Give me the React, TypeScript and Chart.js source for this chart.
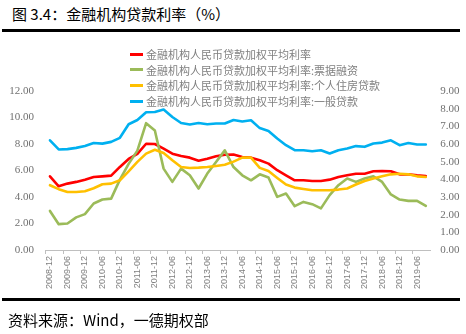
import React, { useEffect, useRef } from "react";
import { Chart, registerables } from "chart.js";

Chart.register(...registerables);

const quarters = [
  "2008-12", "2009-03", "2009-06", "2009-09", "2009-12", "2010-03", "2010-06", "2010-09",
  "2010-12", "2011-03", "2011-06", "2011-09", "2011-12", "2012-03", "2012-06", "2012-09",
  "2012-12", "2013-03", "2013-06", "2013-09", "2013-12", "2014-03", "2014-06", "2014-09",
  "2014-12", "2015-03", "2015-06", "2015-09", "2015-12", "2016-03", "2016-06", "2016-09",
  "2016-12", "2017-03", "2017-06", "2017-09", "2017-12", "2018-03", "2018-06", "2018-09",
  "2018-12", "2019-03", "2019-06", "2019-09",
];

// 金融机构人民币贷款加权平均利率 (left axis)
const loanRate = [
  5.56, 4.81, 5.01, 5.14, 5.31, 5.51, 5.56, 5.61, 6.27, 6.87, 7.25, 8.02, 8.0, 7.65, 7.27, 7.09,
  6.97, 6.74, 6.89, 7.07, 7.19, 7.2, 7.02, 6.97, 6.77, 6.52, 6.02, 5.64, 5.26, 5.26, 5.21, 5.21,
  5.31, 5.51, 5.64, 5.76, 5.76, 5.94, 5.96, 5.94, 5.71, 5.71, 5.64, 5.59,
];

// 票据融资 (left axis)
const billRate = [
  2.95, 1.95, 2.0, 2.46, 2.71, 3.51, 3.81, 3.88, 5.31, 6.5, 7.5, 9.57, 9.02, 6.14, 5.14, 6.14,
  5.64, 4.64, 5.77, 6.64, 7.52, 6.26, 5.64, 5.26, 5.71, 5.47, 4.01, 4.26, 3.31, 3.63, 3.46, 3.14,
  4.14, 4.89, 5.39, 5.14, 5.39, 5.56, 5.14, 4.19, 3.81, 3.71, 3.71, 3.33,
];

// 个人住房贷款 (left axis)
const mortgageRate = [
  4.89, 4.59, 4.38, 4.38, 4.44, 4.66, 4.96, 5.01, 5.26, 5.94, 6.65, 7.27, 7.57, 7.32, 6.77, 6.27,
  6.19, 6.22, 6.27, 6.34, 6.44, 6.67, 6.97, 6.97, 6.2, 5.96, 5.44, 4.94, 4.71, 4.61, 4.51, 4.51,
  4.51, 4.56, 4.64, 4.94, 5.21, 5.39, 5.56, 5.71, 5.76, 5.71, 5.56, 5.51,
];

// 一般贷款 (right axis)
const generalRate = [
  6.21, 5.69, 5.71, 5.78, 5.89, 6.06, 6.02, 6.12, 6.35, 7.12, 7.36, 7.8, 7.81, 7.95, 7.53, 7.19,
  7.1, 7.19, 7.12, 7.16, 7.16, 7.36, 7.27, 7.34, 6.9, 6.74, 6.31, 5.93, 5.65, 5.65, 5.59, 5.65,
  5.46, 5.65, 5.74, 5.88, 5.84, 6.03, 6.08, 6.21, 5.93, 6.06, 5.97, 5.97,
];

const seriesNames = [
  "金融机构人民币贷款加权平均利率",
  "金融机构人民币贷款加权平均利率:票据融资",
  "金融机构人民币贷款加权平均利率:个人住房贷款",
  "金融机构人民币贷款加权平均利率:一般贷款",
];
const seriesColors = ["#FF0000", "#9BBB59", "#FFC000", "#00B0F0"];

const leftMax = 12;
const leftStep = 2;
const rightMax = 9;
const rightStep = 1;

const titleText = "图 3.4：金融机构贷款利率（%）";
const sourceText = "资料来源：Wind，一德期权部";

const W = 466;
const H = 334;
const AREA_TOP = 91;
const AREA_BOTTOM = 250;
const AREA_LEFT = 45.6;
const AREA_RIGHT = 430.2;
const X_AXIS_H = 40;

export default function App() {
  const canvasRef = useRef<HTMLCanvasElement | null>(null);

  useEffect(() => {
    const canvas = canvasRef.current;
    if (!canvas) return;
    const seriesData = [loanRate, billRate, mortgageRate, generalRate];
    const axisIds = ["yL", "yL", "yL", "yR"];
    const chart = new Chart(canvas, {
      type: "line",
      data: {
        labels: quarters,
        datasets: seriesData.map((d, i) => ({
          label: seriesNames[i],
          data: d,
          yAxisID: axisIds[i],
          borderColor: seriesColors[i],
          backgroundColor: seriesColors[i],
          borderWidth: 2.6,
          pointRadius: 0,
          tension: 0,
          borderJoinStyle: "round" as const,
          borderCapStyle: "round" as const,
          order: 4 - i,
        })),
      },
      options: {
        animation: false,
        responsive: false,
        devicePixelRatio: 1,
        layout: {
          padding: { top: AREA_TOP, bottom: H - AREA_BOTTOM - X_AXIS_H, left: 0, right: 0 },
        },
        plugins: { legend: { display: false }, tooltip: { enabled: false } },
        scales: {
          x: {
            type: "category",
            offset: true,
            grid: {
              display: true,
              offset: true,
              drawOnChartArea: false,
              drawTicks: true,
              tickLength: 4,
              color: (ctx: any) => (ctx.index % 2 === 0 ? "#bfbfbf" : "rgba(0,0,0,0)"),
            },
            border: { display: true, color: "#bfbfbf", width: 1 },
            ticks: {
              autoSkip: false,
              minRotation: 90,
              maxRotation: 90,
              padding: 2,
              color: "#7f7f7f",
              font: { family: "'Liberation Sans', Arial, sans-serif", size: 9 },
              callback: (_v: any, idx: number) => (idx % 2 === 0 ? quarters[idx] : ""),
            },
            afterFit: (s: any) => {
              s.height = X_AXIS_H;
            },
          },
          yL: {
            type: "linear",
            position: "left",
            min: 0,
            max: leftMax,
            grid: { display: false, drawTicks: false },
            border: { display: false },
            ticks: {
              stepSize: leftStep,
              padding: 11.6,
              color: "#707070",
              font: { family: "'Liberation Serif', 'DejaVu Serif', serif", size: 11 },
              callback: (v: any) => Number(v).toFixed(2),
            },
            afterFit: (s: any) => {
              s.width = AREA_LEFT;
            },
          },
          yR: {
            type: "linear",
            position: "right",
            min: 0,
            max: rightMax,
            grid: { display: false, drawTicks: false },
            border: { display: false },
            ticks: {
              stepSize: rightStep,
              padding: 10,
              color: "#707070",
              font: { family: "'Liberation Serif', 'DejaVu Serif', serif", size: 11 },
              callback: (v: any) => Number(v).toFixed(2),
            },
            afterFit: (s: any) => {
              s.width = W - AREA_RIGHT;
            },
          },
        },
      },
    });
    return () => chart.destroy();
  }, []);

  const legendCenters = [54, 69.5, 85, 101];

  return (
    <div
      style={{
        position: "fixed",
        left: 0,
        top: 0,
        width: W,
        height: H,
        background: "#ffffff",
        overflow: "hidden",
        fontFamily: "'Noto Sans CJK SC', sans-serif",
      }}
    >
      <div
        style={{
          position: "absolute",
          left: 12,
          top: 6,
          fontSize: 15,
          lineHeight: "15px",
          color: "#000",
          whiteSpace: "nowrap",
        }}
      >
        {titleText}
      </div>
      <div style={{ position: "absolute", left: 2, top: 29, width: 458, height: 3, background: "#000" }} />
      <canvas
        ref={canvasRef}
        width={W}
        height={H}
        style={{ position: "absolute", left: 0, top: 0, width: W, height: H }}
      />
      {seriesNames.map((name, i) => (
        <div
          key={name}
          style={{
            position: "absolute",
            left: 130,
            top: legendCenters[i] - 7,
            height: 14,
            display: "flex",
            alignItems: "center",
            whiteSpace: "nowrap",
          }}
        >
          <span
            style={{ display: "inline-block", width: 13, height: 3, background: seriesColors[i], marginRight: 3 }}
          />
          <span style={{ fontSize: 11, lineHeight: "14px", color: "#808080" }}>{name}</span>
        </div>
      ))}
      <div style={{ position: "absolute", left: 2, top: 298, width: 458, height: 3, background: "#000" }} />
      <div
        style={{
          position: "absolute",
          left: 8,
          top: 312,
          fontSize: 15,
          lineHeight: "15px",
          color: "#000",
          whiteSpace: "nowrap",
        }}
      >
        {sourceText}
      </div>
    </div>
  );
}
